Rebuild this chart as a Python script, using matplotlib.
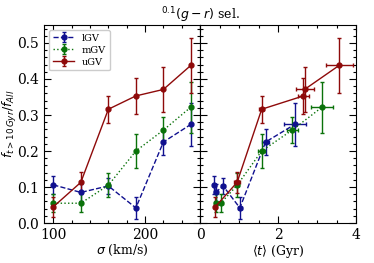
import matplotlib
matplotlib.use("Agg")
import matplotlib.pyplot as plt
from matplotlib.ticker import MultipleLocator

plt.rcParams['font.family'] = 'serif'
plt.rcParams['font.serif'] = ['DejaVu Serif']
plt.rcParams['mathtext.fontset'] = 'dejavusans'

# velocity dispersion bins (km/s)
sigma = [100, 130, 160, 190, 220, 250]

# fraction of old galaxies per group
l_frac = [0.106, 0.085, 0.103, 0.042, 0.225, 0.274]
l_err = [0.025, 0.023, 0.022, 0.030, 0.035, 0.060]
m_frac = [0.055, 0.055, 0.105, 0.200, 0.258, 0.322]
m_err = [0.025, 0.025, 0.034, 0.047, 0.037, 0.071]
u_frac = [0.045, 0.113, 0.316, 0.353, 0.371, 0.438]
u_err = [0.028, 0.030, 0.037, 0.049, 0.063, 0.077]

# mean ages (Gyr) and their spreads
l_age = [0.36, 0.40, 0.59, 1.02, 1.68, 2.43]
l_age_err = [0.04, 0.04, 0.05, 0.06, 0.09, 0.28]
m_age = [0.40, 0.53, 0.95, 1.58, 2.36, 3.13]
m_age_err = [0.04, 0.05, 0.06, 0.09, 0.14, 0.29]
u_age = [0.39, 0.95, 1.58, 2.65, 2.68, 3.57]
u_age_err = [0.04, 0.07, 0.07, 0.14, 0.23, 0.35]

groups = [
    ('lGV', l_frac, l_err, l_age, l_age_err, '#10108f', '--'),
    ('mGV', m_frac, m_err, m_age, m_age_err, '#0a720a', ':'),
    ('uGV', u_frac, u_err, u_age, u_age_err, '#8e0a0a', '-'),
]

fig = plt.figure(figsize=(3.74, 2.63), dpi=100)
ax1 = fig.add_axes([0.118, 0.152, 0.417, 0.753])
ax2 = fig.add_axes([0.535, 0.152, 0.417, 0.753], sharey=ax1)

for name, frac, err, age, age_err, col, ls in groups:
    ax1.errorbar(sigma, frac, yerr=err, color=col, ls=ls, lw=1,
                 marker='o', ms=3.5, capsize=1.5, elinewidth=1,
                 ecolor=col, label=name)
    ax2.errorbar(age, frac, yerr=err, xerr=age_err, color=col, ls=ls, lw=1,
                 marker='o', ms=3.5, capsize=1.5, elinewidth=1, ecolor=col)

ax1.set_xlim(90, 260)
ax2.set_xlim(0, 4)
ax1.set_ylim(0, 0.55)

ax1.xaxis.set_major_locator(MultipleLocator(100))
ax1.xaxis.set_minor_locator(MultipleLocator(20))
ax2.xaxis.set_major_locator(MultipleLocator(2))
ax2.xaxis.set_minor_locator(MultipleLocator(0.5))
ax1.yaxis.set_major_locator(MultipleLocator(0.1))
ax1.yaxis.set_minor_locator(MultipleLocator(0.02))

for ax in (ax1, ax2):
    ax.tick_params(which='both', direction='in', top=True, right=True,
                   labelsize=10, width=0.8)
    ax.tick_params(which='major', length=5)
    ax.tick_params(which='minor', length=2.5)
ax2.tick_params(labelleft=False)

ax1.set_xlabel(r'$\sigma$ (km/s)', fontsize=9, labelpad=1)
ax2.set_xlabel(r'$\langle t\rangle$ (Gyr)', fontsize=9, labelpad=1)
ax1.set_ylabel(r'$f_{t>10\,Gyr}/f_{All}$', fontsize=9)
ax1.yaxis.set_label_coords(-0.16, 0.5)

ax1.legend(loc='upper left', fontsize=7, handlelength=2.2,
           borderpad=0.4, labelspacing=0.3, framealpha=1)

fig.text(0.535, 0.925, r'$^{0.1}(g-r)$ sel.', ha='center', va='baseline',
         fontsize=9)

fig.savefig('out.png', dpi=100)
